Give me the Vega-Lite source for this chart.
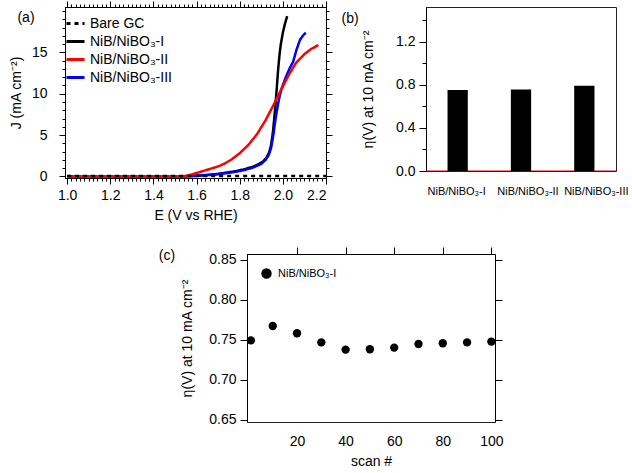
{
  "$schema": "https://vega.github.io/schema/vega-lite/v6.json",
  "padding": {"left": 9, "top": 0, "right": 2, "bottom": 2},
  "spacing": 24,
  "resolve": {"scale": {"color": "independent", "strokeDash": "independent"}, "legend": {"color": "independent", "strokeDash": "independent"}},
  "config": {
    "font": "Liberation Sans",
    "view": {"stroke": null},
    "axis": {"grid": false, "domainColor": "black", "tickColor": "black", "labelColor": "black", "titleColor": "black", "labelFontSize": 14, "titleFontSize": 14, "titleFontWeight": "normal", "labelFont": "Liberation Sans", "titleFont": "Liberation Sans", "domainWidth": 1, "tickWidth": 1},
    "legend": {"labelFont": "Liberation Sans", "labelColor": "black"},
    "title": {"font": "Liberation Sans", "fontWeight": "normal", "fontSize": 14, "color": "black", "anchor": "start", "frame": "bounds"}
  },
  "datasets": {
    "curves": [
      {"series": "NiB/NiBO₃-I", "E": 1.00, "J": 0.0},
      {"series": "NiB/NiBO₃-I", "E": 1.40, "J": 0.0},
      {"series": "NiB/NiBO₃-I", "E": 1.52, "J": 0.0},
      {"series": "NiB/NiBO₃-I", "E": 1.56, "J": 0.03},
      {"series": "NiB/NiBO₃-I", "E": 1.60, "J": 0.08},
      {"series": "NiB/NiBO₃-I", "E": 1.65, "J": 0.17},
      {"series": "NiB/NiBO₃-I", "E": 1.70, "J": 0.30},
      {"series": "NiB/NiBO₃-I", "E": 1.73, "J": 0.42},
      {"series": "NiB/NiBO₃-I", "E": 1.78, "J": 0.62},
      {"series": "NiB/NiBO₃-I", "E": 1.82, "J": 0.85},
      {"series": "NiB/NiBO₃-I", "E": 1.86, "J": 1.15},
      {"series": "NiB/NiBO₃-I", "E": 1.89, "J": 1.5},
      {"series": "NiB/NiBO₃-I", "E": 1.91, "J": 1.85},
      {"series": "NiB/NiBO₃-I", "E": 1.925, "J": 2.3},
      {"series": "NiB/NiBO₃-I", "E": 1.935, "J": 2.8},
      {"series": "NiB/NiBO₃-I", "E": 1.944, "J": 3.6},
      {"series": "NiB/NiBO₃-I", "E": 1.95, "J": 4.6},
      {"series": "NiB/NiBO₃-I", "E": 1.955, "J": 5.6},
      {"series": "NiB/NiBO₃-I", "E": 1.96, "J": 7.0},
      {"series": "NiB/NiBO₃-I", "E": 1.965, "J": 8.4},
      {"series": "NiB/NiBO₃-I", "E": 1.971, "J": 10.4},
      {"series": "NiB/NiBO₃-I", "E": 1.978, "J": 12.9},
      {"series": "NiB/NiBO₃-I", "E": 1.984, "J": 14.6},
      {"series": "NiB/NiBO₃-I", "E": 1.99, "J": 15.9},
      {"series": "NiB/NiBO₃-I", "E": 2.0, "J": 17.4},
      {"series": "NiB/NiBO₃-I", "E": 2.01, "J": 18.5},
      {"series": "NiB/NiBO₃-I", "E": 2.02, "J": 19.4},
      {"series": "NiB/NiBO₃-III", "E": 1.00, "J": 0.0},
      {"series": "NiB/NiBO₃-III", "E": 1.52, "J": 0.0},
      {"series": "NiB/NiBO₃-III", "E": 1.56, "J": 0.02},
      {"series": "NiB/NiBO₃-III", "E": 1.60, "J": 0.06},
      {"series": "NiB/NiBO₃-III", "E": 1.65, "J": 0.14},
      {"series": "NiB/NiBO₃-III", "E": 1.70, "J": 0.26},
      {"series": "NiB/NiBO₃-III", "E": 1.73, "J": 0.36},
      {"series": "NiB/NiBO₃-III", "E": 1.78, "J": 0.55},
      {"series": "NiB/NiBO₃-III", "E": 1.82, "J": 0.75},
      {"series": "NiB/NiBO₃-III", "E": 1.86, "J": 1.05},
      {"series": "NiB/NiBO₃-III", "E": 1.90, "J": 1.5},
      {"series": "NiB/NiBO₃-III", "E": 1.92, "J": 2.0},
      {"series": "NiB/NiBO₃-III", "E": 1.935, "J": 2.6},
      {"series": "NiB/NiBO₃-III", "E": 1.945, "J": 3.4},
      {"series": "NiB/NiBO₃-III", "E": 1.952, "J": 4.4},
      {"series": "NiB/NiBO₃-III", "E": 1.958, "J": 5.4},
      {"series": "NiB/NiBO₃-III", "E": 1.963, "J": 6.4},
      {"series": "NiB/NiBO₃-III", "E": 1.97, "J": 7.6},
      {"series": "NiB/NiBO₃-III", "E": 1.978, "J": 8.8},
      {"series": "NiB/NiBO₃-III", "E": 1.986, "J": 9.8},
      {"series": "NiB/NiBO₃-III", "E": 1.994, "J": 10.6},
      {"series": "NiB/NiBO₃-III", "E": 2.005, "J": 11.4},
      {"series": "NiB/NiBO₃-III", "E": 2.017, "J": 12.2},
      {"series": "NiB/NiBO₃-III", "E": 2.032, "J": 13.1},
      {"series": "NiB/NiBO₃-III", "E": 2.048, "J": 13.9},
      {"series": "NiB/NiBO₃-III", "E": 2.063, "J": 15.3},
      {"series": "NiB/NiBO₃-III", "E": 2.079, "J": 16.5},
      {"series": "NiB/NiBO₃-III", "E": 2.092, "J": 17.0},
      {"series": "NiB/NiBO₃-III", "E": 2.106, "J": 17.4},
      {"series": "NiB/NiBO₃-II", "E": 1.00, "J": 0.0},
      {"series": "NiB/NiBO₃-II", "E": 1.53, "J": 0.0},
      {"series": "NiB/NiBO₃-II", "E": 1.56, "J": 0.1},
      {"series": "NiB/NiBO₃-II", "E": 1.60, "J": 0.4},
      {"series": "NiB/NiBO₃-II", "E": 1.65, "J": 0.8},
      {"series": "NiB/NiBO₃-II", "E": 1.70, "J": 1.2},
      {"series": "NiB/NiBO₃-II", "E": 1.73, "J": 1.55},
      {"series": "NiB/NiBO₃-II", "E": 1.76, "J": 2.0},
      {"series": "NiB/NiBO₃-II", "E": 1.80, "J": 2.8},
      {"series": "NiB/NiBO₃-II", "E": 1.84, "J": 3.8},
      {"series": "NiB/NiBO₃-II", "E": 1.88, "J": 5.1},
      {"series": "NiB/NiBO₃-II", "E": 1.92, "J": 6.8},
      {"series": "NiB/NiBO₃-II", "E": 1.96, "J": 8.8},
      {"series": "NiB/NiBO₃-II", "E": 2.00, "J": 10.9},
      {"series": "NiB/NiBO₃-II", "E": 2.03, "J": 12.4},
      {"series": "NiB/NiBO₃-II", "E": 2.06, "J": 13.7},
      {"series": "NiB/NiBO₃-II", "E": 2.10, "J": 14.8},
      {"series": "NiB/NiBO₃-II", "E": 2.13, "J": 15.4},
      {"series": "NiB/NiBO₃-II", "E": 2.165, "J": 15.9}
    ],
    "bare": [
      {"series": "Bare GC", "E": 1.0, "J": 0.05},
      {"series": "Bare GC", "E": 2.2, "J": 0.05}
    ],
    "bars": [
      {"sample": "NiB/NiBO₃-I", "eta": 0.75, "other": 0.005},
      {"sample": "NiB/NiBO₃-II", "eta": 0.755, "other": 0.005},
      {"sample": "NiB/NiBO₃-III", "eta": 0.79, "other": 0.005}
    ],
    "scans": [
      {"sample": "NiB/NiBO₃-I", "scan": 1, "eta": 0.749},
      {"sample": "NiB/NiBO₃-I", "scan": 10, "eta": 0.767},
      {"sample": "NiB/NiBO₃-I", "scan": 20, "eta": 0.758},
      {"sample": "NiB/NiBO₃-I", "scan": 30, "eta": 0.7465},
      {"sample": "NiB/NiBO₃-I", "scan": 40, "eta": 0.7375},
      {"sample": "NiB/NiBO₃-I", "scan": 50, "eta": 0.738},
      {"sample": "NiB/NiBO₃-I", "scan": 60, "eta": 0.740},
      {"sample": "NiB/NiBO₃-I", "scan": 70, "eta": 0.7445},
      {"sample": "NiB/NiBO₃-I", "scan": 80, "eta": 0.7455},
      {"sample": "NiB/NiBO₃-I", "scan": 90, "eta": 0.7465},
      {"sample": "NiB/NiBO₃-I", "scan": 100, "eta": 0.7475}
    ]
  },
  "vconcat": [
    {
      "spacing": 8,
      "resolve": {"scale": {"color": "independent", "strokeDash": "independent"}, "legend": {"color": "independent", "strokeDash": "independent"}},
      "hconcat": [
        {
          "width": 261,
          "height": 171,
          "title": {"text": "(a)", "dx": 8, "dy": 24, "offset": 0},
          "resolve": {"axis": {"x": "independent", "y": "independent"}},
          "layer": [
            {
              "data": {"name": "curves"},
              "mark": {"type": "line", "strokeWidth": 2.5},
              "encoding": {
                "x": {"field": "E", "type": "quantitative", "scale": {"domain": [0.99, 2.2], "nice": false, "zero": false}, "axis": {"orient": "bottom", "values": [1.0, 1.2, 1.4, 1.6, 1.8, 2.0, 2.2], "format": ".1f", "tickSize": 6, "labelPadding": 4, "title": "E (V vs RHE)", "titlePadding": 6}},
                "y": {"field": "J", "type": "quantitative", "scale": {"domain": [-0.2, 20.5], "nice": false, "zero": false}, "axis": {"orient": "left", "values": [0, 5, 10, 15], "tickSize": 6, "labelPadding": 12, "title": "J (mA cm⁻²)", "titlePadding": 8}},
                "color": {"field": "series", "type": "nominal", "scale": {"domain": ["Bare GC", "NiB/NiBO₃-I", "NiB/NiBO₃-II", "NiB/NiBO₃-III"], "range": ["black", "black", "#ff0000", "#0000ff"]}, "legend": {"title": null, "orient": "none", "legendX": 0, "legendY": 6, "padding": 0, "symbolType": "stroke", "symbolSize": 324, "symbolStrokeWidth": 3, "labelFontSize": 14, "labelOffset": 4, "rowPadding": -1.3}},
                "strokeDash": {"field": "series", "type": "nominal", "scale": {"domain": ["Bare GC", "NiB/NiBO₃-I", "NiB/NiBO₃-II", "NiB/NiBO₃-III"], "range": [[4, 4], [1, 0], [1, 0], [1, 0]]}, "legend": {"title": null, "orient": "none", "legendX": 0, "legendY": 6, "padding": 0, "symbolType": "stroke", "symbolSize": 324, "symbolStrokeWidth": 3, "labelFontSize": 14, "labelOffset": 4, "rowPadding": -1.3}}
              }
            },
            {
              "data": {"name": "bare"},
              "mark": {"type": "line", "strokeWidth": 2.5},
              "encoding": {
                "x": {"field": "E", "type": "quantitative", "scale": {"domain": [0.99, 2.2], "nice": false, "zero": false}, "axis": null},
                "y": {"field": "J", "type": "quantitative", "scale": {"domain": [-0.2, 20.5], "nice": false, "zero": false}, "axis": null},
                "color": {"field": "series", "type": "nominal", "legend": {"title": null, "orient": "none", "legendX": 0, "legendY": 6, "padding": 0, "symbolType": "stroke", "symbolSize": 324, "symbolStrokeWidth": 3, "labelFontSize": 14, "labelOffset": 4, "rowPadding": -1.3}},
                "strokeDash": {"field": "series", "type": "nominal", "legend": {"title": null, "orient": "none", "legendX": 0, "legendY": 6, "padding": 0, "symbolType": "stroke", "symbolSize": 324, "symbolStrokeWidth": 3, "labelFontSize": 14, "labelOffset": 4, "rowPadding": -1.3}}
              }
            },
            {
              "data": {"name": "bare"},
              "mark": {"type": "line", "opacity": 0},
              "encoding": {
                "x": {"field": "E", "type": "quantitative", "scale": {"domain": [0.99, 2.2], "nice": false, "zero": false}, "axis": {"orient": "bottom", "values": [1.0, 1.02, 1.04, 1.06, 1.08, 1.1, 1.12, 1.14, 1.16, 1.18, 1.2, 1.22, 1.24, 1.26, 1.28, 1.3, 1.32, 1.34, 1.36, 1.38, 1.4, 1.42, 1.44, 1.46, 1.48, 1.5, 1.52, 1.54, 1.56, 1.58, 1.6, 1.62, 1.64, 1.66, 1.68, 1.7, 1.72, 1.74, 1.76, 1.78, 1.8, 1.82, 1.84, 1.86, 1.88, 1.9, 1.92, 1.94, 1.96, 1.98, 2.0, 2.02, 2.04, 2.06, 2.08, 2.1, 2.12, 2.14, 2.16, 2.18, 2.2], "tickSize": 3, "labels": false, "title": null}},
                "y": {"field": "J", "type": "quantitative", "scale": {"domain": [-0.2, 20.5], "nice": false, "zero": false}, "axis": {"orient": "left", "values": [0, 1, 2, 3, 4, 5, 6, 7, 8, 9, 10, 11, 12, 13, 14, 15, 16, 17, 18, 19, 20], "tickSize": 3, "labels": false, "title": null}}
              }
            },
            {
              "data": {"name": "bare"},
              "mark": {"type": "line", "opacity": 0},
              "encoding": {
                "x": {"field": "E", "type": "quantitative", "scale": {"domain": [0.99, 2.2], "nice": false, "zero": false}, "axis": {"orient": "top", "values": [1.0, 1.2, 1.4, 1.6, 1.8, 2.0, 2.2], "tickSize": 6, "labels": false, "title": null}},
                "y": {"field": "J", "type": "quantitative", "scale": {"domain": [-0.2, 20.5], "nice": false, "zero": false}, "axis": {"orient": "right", "values": [0, 5, 10, 15], "tickSize": 6, "labels": false, "title": null}}
              }
            },
            {
              "data": {"name": "bare"},
              "mark": {"type": "line", "opacity": 0},
              "encoding": {
                "x": {"field": "E", "type": "quantitative", "scale": {"domain": [0.99, 2.2], "nice": false, "zero": false}, "axis": {"orient": "top", "values": [1.0, 1.02, 1.04, 1.06, 1.08, 1.1, 1.12, 1.14, 1.16, 1.18, 1.2, 1.22, 1.24, 1.26, 1.28, 1.3, 1.32, 1.34, 1.36, 1.38, 1.4, 1.42, 1.44, 1.46, 1.48, 1.5, 1.52, 1.54, 1.56, 1.58, 1.6, 1.62, 1.64, 1.66, 1.68, 1.7, 1.72, 1.74, 1.76, 1.78, 1.8, 1.82, 1.84, 1.86, 1.88, 1.9, 1.92, 1.94, 1.96, 1.98, 2.0, 2.02, 2.04, 2.06, 2.08, 2.1, 2.12, 2.14, 2.16, 2.18, 2.2], "tickSize": 3, "labels": false, "title": null}},
                "y": {"field": "J", "type": "quantitative", "scale": {"domain": [-0.2, 20.5], "nice": false, "zero": false}, "axis": {"orient": "right", "values": [0, 1, 2, 3, 4, 5, 6, 7, 8, 9, 10, 11, 12, 13, 14, 15, 16, 17, 18, 19, 20], "tickSize": 3, "labels": false, "title": null}}
              }
            }
          ]
        },
        {
          "width": 190,
          "height": 164,
          "view": {"stroke": "#222", "strokeWidth": 1},
          "title": {"text": "(b)", "dx": -20, "dy": 19, "offset": 0},
          "data": {"name": "bars"},
          "resolve": {"axis": {"y": "independent"}},
          "layer": [
            {
              "mark": {"type": "bar", "color": "#ff0000", "width": {"band": 1}},
              "encoding": {
                "x": {"field": "sample", "type": "nominal", "sort": null, "scale": {"paddingInner": 0, "paddingOuter": 0}, "axis": {"title": null, "labelAngle": 0, "ticks": false, "domain": false, "labelFontSize": 11, "labelPadding": 14, "labelOverlap": false, "labelOffset": {"condition": [{"test": "datum.value === 'NiB/NiBO₃-II'", "value": 7}, {"test": "datum.value === 'NiB/NiBO₃-III'", "value": 12}], "value": -1}}},
                "y": {"field": "other", "type": "quantitative", "scale": {"domain": [0, 1.52], "nice": false}, "axis": {"orient": "left", "values": [0.2, 0.6, 1.0, 1.4], "tickSize": 4, "labels": false, "title": null, "domain": false}}
              }
            },
            {
              "mark": {"type": "bar", "color": "black", "width": {"band": 0.32}},
              "encoding": {
                "x": {"field": "sample", "type": "nominal", "sort": null},
                "y": {"field": "eta", "type": "quantitative", "scale": {"domain": [0, 1.52], "nice": false}, "axis": {"orient": "left", "values": [0, 0.4, 0.8, 1.2], "format": ".1f", "tickSize": 7, "labelPadding": 4, "title": "η(V) at 10 mA cm⁻²", "titlePadding": 20}}
              }
            }
          ]
        }
      ]
    },
    {
      "spacing": 0,
      "resolve": {"scale": {"color": "independent"}, "legend": {"color": "independent"}},
      "hconcat": [
        {
          "width": 93,
          "height": 10,
          "data": {"values": []},
          "mark": {"type": "point", "opacity": 0}
        },
        {
          "width": 248,
          "height": 168,
          "view": {"stroke": "#222", "strokeWidth": 1},
          "title": {"text": "(c)", "dx": -22, "dy": 16, "offset": 0},
          "data": {"name": "scans"},
          "resolve": {"axis": {"x": "independent", "y": "independent"}},
          "layer": [
            {
              "mark": {"type": "point", "filled": true, "opacity": 1, "size": 70},
              "encoding": {
                "x": {"field": "scan", "type": "quantitative", "scale": {"domain": [-0.6, 101.5], "nice": false, "zero": false}, "axis": {"orient": "bottom", "values": [20, 40, 60, 80, 100], "ticks": false, "domain": false, "labelPadding": 12, "title": "scan #", "titlePadding": 6}},
                "y": {"field": "eta", "type": "quantitative", "scale": {"domain": [0.647, 0.857], "nice": false, "zero": false}, "axis": {"orient": "left", "values": [0.65, 0.7, 0.75, 0.8, 0.85], "format": ".2f", "tickSize": 7, "labelPadding": 4, "title": "η(V) at 10 mA cm⁻²", "titlePadding": 14}},
                "color": {"field": "sample", "type": "nominal", "scale": {"range": ["black"]}, "legend": {"title": null, "orient": "top-left", "offset": 14, "padding": 0, "symbolType": "circle", "symbolSize": 80, "symbolFillColor": "black", "symbolStrokeColor": "black", "labelFontSize": 11, "labelOffset": 6}}
              }
            },
            {
              "mark": {"type": "point", "opacity": 0},
              "encoding": {
                "x": {"field": "scan", "type": "quantitative", "scale": {"domain": [-0.6, 101.5], "nice": false, "zero": false}, "axis": {"orient": "top", "values": [20, 40, 60, 80, 100], "tickSize": 7, "labels": false, "title": null}},
                "y": {"field": "eta", "type": "quantitative", "scale": {"domain": [0.647, 0.857], "nice": false, "zero": false}, "axis": {"orient": "right", "values": [0.65, 0.7, 0.75, 0.8, 0.85], "tickSize": 7, "labels": false, "title": null}}
              }
            }
          ]
        }
      ]
    }
  ]
}
